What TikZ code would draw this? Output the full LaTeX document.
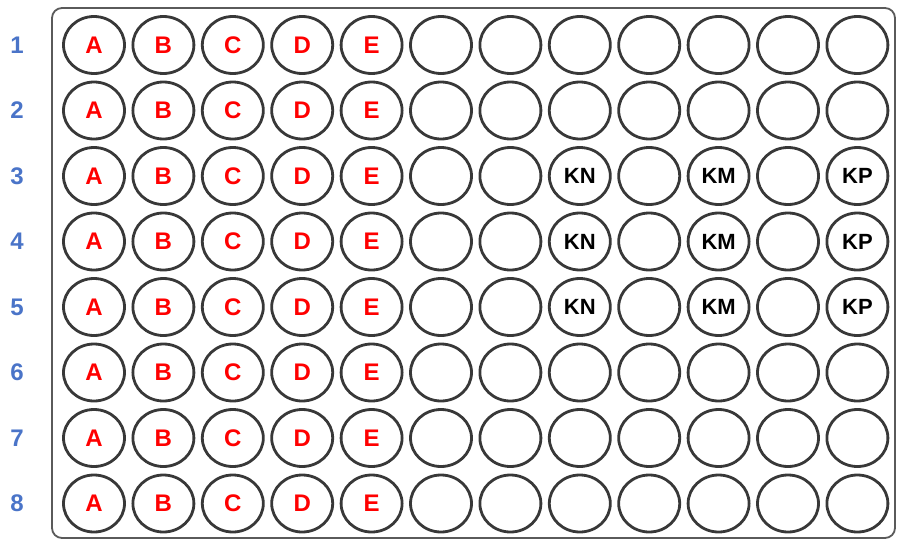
\documentclass[tikz,border=0pt]{standalone}
\usepackage{fontspec}
\setmainfont{Liberation Sans}
\usepackage{tikz}
\usetikzlibrary{shapes.geometric, positioning}
\definecolor{wellgray}{HTML}{383838}
\definecolor{plategray}{HTML}{5A5A5A}
\definecolor{rowblue}{HTML}{4A74C8}
\definecolor{samplered}{HTML}{FF0000}

\begin{document}
\begin{tikzpicture}[x=1pt, y=-1pt]
    \tikzstyle{well} = [ellipse, minimum width=61pt, minimum height=57pt, inner sep=0pt, draw=wellgray, line width=2.8pt]
    \tikzstyle{sample} = [well, text=samplered, font=\fontsize{24}{24}\selectfont\bfseries]
    \tikzstyle{control} = [well, text=black, font=\fontsize{22}{22}\selectfont\bfseries]
    \tikzstyle{rowlabel} = [font=\fontsize{24}{24}\selectfont\bfseries, text=rowblue]
    \tikzstyle{plate} = [draw=plategray, line width=1.8pt, rounded corners=10pt]

    \useasboundingbox (0,0) rectangle (897,541);
    \draw [plate] (52,8) rectangle (895,538);

    % row numbers and wells A-E
    \foreach \r in {1,...,8} {
        \node (row\r) [rowlabel] at (17, 45+65.5*\r-65.5) {\r};
        \foreach \c/\t in {1/A, 2/B, 3/C, 4/D, 5/E}
            \node (w-\r-\c) [sample] at (94+69.4*\c-69.4, 45+65.5*\r-65.5) {\t};
    }
    % empty wells
    \foreach \r in {1, 2, 6, 7, 8}
        \foreach \c in {6,...,12}
            \node (w-\r-\c) [well] at (94+69.4*\c-69.4, 45+65.5*\r-65.5) {};
    % controls
    \foreach \r in {3, 4, 5}
        \foreach \c/\t in {6/, 7/, 8/KN, 9/, 10/KM, 11/, 12/KP}
            \node (w-\r-\c) [control] at (94+69.4*\c-69.4, 45+65.5*\r-65.5) {\t};
\end{tikzpicture}
\end{document}
